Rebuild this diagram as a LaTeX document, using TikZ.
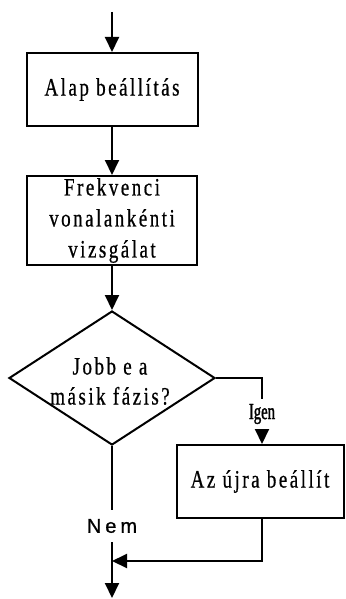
\documentclass[tikz,border=0pt]{standalone}
\usepackage{fontspec}
\setmainfont{Liberation Serif}[FakeStretch=0.76,LetterSpace=10,FakeBold=0.6]
\newfontfamily\nemfont{Liberation Sans}[LetterSpace=20,FakeBold=0.8]
\newfontfamily\igenfont{Liberation Serif}[FakeStretch=0.64,FakeBold=1.5]
\usetikzlibrary{arrows.meta,shapes.geometric}
\tikzset{
  ln/.style={line width=2pt},
  arr/.style={ln,-{Triangle[width=14pt,length=15pt]}},
  boxnode/.style={draw,ln,rectangle,inner sep=0pt,align=center,
    font=\fontsize{25}{31}\selectfont},
  decnode/.style={draw,ln,diamond,inner sep=0pt,minimum width=206pt,minimum height=134pt},
  dectext/.style={align=center,inner sep=0pt,font=\fontsize{25}{30}\selectfont},
  nemlab/.style={inner sep=0pt,minimum height=32pt,font=\nemfont\fontsize{20}{20}\selectfont},
  igenlab/.style={inner sep=0pt,minimum height=30pt,font=\igenfont\fontsize{23}{23}\selectfont},
}
\begin{document}
\begin{tikzpicture}[x=1pt,y=-1pt]
\useasboundingbox (0,0) rectangle (345,599);
\coordinate (start) at (112,12);
\node[boxnode,minimum width=171pt,minimum height=73pt] (b1) at (112,89.5) {Alap beállítás};
\node[boxnode,minimum width=170pt,minimum height=89pt] (b2) at (112,220.5) {Frekvenci\\vonalankénti\\vizsgálat};
\node[decnode] (d) at (112,378) {};
\node[dectext] (dt) at (110,381) {Jobb e a\\másik fázis?};
\node[igenlab] (igen) at (262,414) {Igen};
\node[boxnode,minimum width=167pt,minimum height=73pt] (b3) at (260,481.5) {Az újra beállít};
\node[nemlab] (nem) at (112,526) {Nem};
\coordinate (merge) at (112,561);
\coordinate (end) at (112,598);

\draw[arr] (start) -- (b1.north);
\draw[arr] (b1.south) -- (b2.north);
\draw[arr] (b2.south) -- (d.north);
\draw[ln] (d.east) -| (igen.north);
\draw[arr] (igen.south) -- (igen.south |- b3.north);
\draw[arr] (igen.south |- b3.south) |- (merge);
\draw[ln] (d.south) -- (nem.north);
\draw[arr] (nem.south) -- (end);
\end{tikzpicture}
\end{document}
